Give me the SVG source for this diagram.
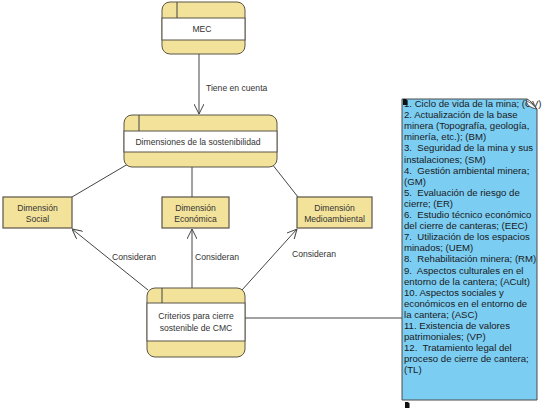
<svg xmlns="http://www.w3.org/2000/svg" width="544" height="409" viewBox="0 0 544 409">
<defs>
<style>
.band{fill:#F3E39A;stroke:#5a5448;stroke-width:1}
.mid{fill:#ffffff;stroke:#5a5448;stroke-width:1}
.box{fill:#F3E39A;stroke:#5a5448;stroke-width:1.2}
.t{font-family:"Liberation Sans",Arial,sans-serif;font-size:8.6px;fill:#333;text-anchor:middle}
.lbl{font-family:"Liberation Sans",Arial,sans-serif;font-size:8.6px;fill:#333}
.note text{font-family:"Liberation Sans",Arial,sans-serif;font-size:9.6px;fill:#1a1a1a;white-space:pre}
.c{stroke:#444;stroke-width:1;fill:none}
</style>
<marker id="arr" viewBox="0 0 10 10" refX="10" refY="5" markerWidth="10" markerHeight="10" markerUnits="userSpaceOnUse" orient="auto">
<path d="M0,0 L10,5 L0,10" fill="none" stroke="#444" stroke-width="1"/>
</marker>
</defs>
<rect width="544" height="409" fill="#ffffff"/>

<g id="connectors">
<line class="c" x1="199" y1="54" x2="199" y2="114" marker-end="url(#arr)"/>
<line class="c" x1="128" y1="164" x2="72" y2="197"/>
<line class="c" x1="192" y1="167" x2="192" y2="197"/>
<line class="c" x1="272" y1="164" x2="298" y2="197"/>
<line class="c" x1="148" y1="290" x2="72" y2="229" marker-end="url(#arr)"/>
<line class="c" x1="192" y1="288" x2="192" y2="229" marker-end="url(#arr)"/>
<line class="c" x1="242" y1="290" x2="297" y2="229" marker-end="url(#arr)"/>
<line class="c" x1="245" y1="318" x2="402" y2="318"/>
<text class="lbl" x="206" y="91">Tiene en cuenta</text>
<text class="lbl" x="112" y="260">Consideran</text>
<text class="lbl" x="195" y="260">Consideran</text>
<text class="lbl" x="292" y="257">Consideran</text>
</g>

<g id="mec">
<rect class="band" x="162" y="2" width="83" height="52" rx="8"/>
<rect class="mid" x="162" y="18" width="83" height="22"/>
<line class="c" x1="177" y1="2" x2="177" y2="18"/>
<text class="t" x="202" y="32">MEC</text>
</g>

<g id="dimensiones">
<rect class="band" x="124" y="115" width="153" height="52" rx="8"/>
<rect class="mid" x="124" y="131" width="153" height="21"/>
<line class="c" x1="139" y1="115" x2="139" y2="131"/>
<text class="t" x="198" y="145">Dimensiones de la sostenibilidad</text>
</g>

<g id="social">
<rect class="box" x="3" y="197" width="69" height="31"/>
<text class="t" x="37.5" y="211">Dimensión</text>
<text class="t" x="37.5" y="222">Social</text>
</g>

<g id="economica">
<rect class="box" x="162" y="197" width="67" height="31"/>
<text class="t" x="195.5" y="211">Dimensión</text>
<text class="t" x="195.5" y="222">Económica</text>
</g>

<g id="medioambiental">
<rect class="box" x="297" y="197" width="75" height="31"/>
<text class="t" x="334.5" y="211">Dimensión</text>
<text class="t" x="334.5" y="222">Medioambiental</text>
</g>

<g id="criterios">
<rect class="band" x="147" y="288" width="98" height="69" rx="8"/>
<rect class="mid" x="147" y="303" width="98" height="38"/>
<line class="c" x1="162" y1="288" x2="162" y2="303"/>
<text class="t" x="196" y="319">Criterios para cierre</text>
<text class="t" x="196" y="331">sostenible de CMC</text>
</g>

<g id="nota">
<path d="M402,99 L527,99 L537,109 L537,400 L402,400 Z" fill="#7CCDF2" stroke="#4a4a4a" stroke-width="1"/>
<g class="note">
<text x="404" y="107">1. Ciclo de vida de la mina; (CV)</text>
<text x="404" y="118.1">2. Actualización de la base</text>
<text x="404" y="129.2">minera (Topografía, geología,</text>
<text x="404" y="140.3">minería, etc.); (BM)</text>
<text x="404" y="151.4">3.  Seguridad de la mina y sus</text>
<text x="404" y="162.5">instalaciones; (SM)</text>
<text x="404" y="173.6">4.  Gestión ambiental minera;</text>
<text x="404" y="184.7">(GM)</text>
<text x="404" y="195.8">5.  Evaluación de riesgo de</text>
<text x="404" y="206.9">cierre; (ER)</text>
<text x="404" y="218">6.  Estudio técnico económico</text>
<text x="404" y="229.1">del cierre de canteras; (EEC)</text>
<text x="404" y="240.2">7.  Utilización de los espacios</text>
<text x="404" y="251.3">minados; (UEM)</text>
<text x="404" y="262.4">8.  Rehabilitación minera; (RM)</text>
<text x="404" y="273.5">9.  Aspectos culturales en el</text>
<text x="404" y="284.6">entorno de la cantera; (ACult)</text>
<text x="404" y="295.7">10. Aspectos sociales y</text>
<text x="404" y="306.8">económicos en el entorno de</text>
<text x="404" y="317.9">la cantera; (ASC)</text>
<text x="404" y="329">11. Existencia de valores</text>
<text x="404" y="340.1">patrimoniales; (VP)</text>
<text x="404" y="351.2">12.  Tratamiento legal del</text>
<text x="404" y="362.3">proceso de cierre de cantera;</text>
<text x="404" y="373.4">(TL)</text>
</g>
<path d="M527,99 C525,104 530,108 537,109 C533,104 531,101 527,99 Z" fill="#ffffff" stroke="#4a4a4a" stroke-width="1"/>
<path d="M525,100 Q531,102 537,109" fill="none" stroke="#4a4a4a" stroke-width="0.8"/>
<path d="M403,99 L406,99 L407.5,100.5 L407.5,105 L403,105 Z" fill="#111"/>
<path d="M405,402 L408,402 L409.5,403.5 L409.5,408 L405,408 Z" fill="#111"/>
</g>
</svg>
